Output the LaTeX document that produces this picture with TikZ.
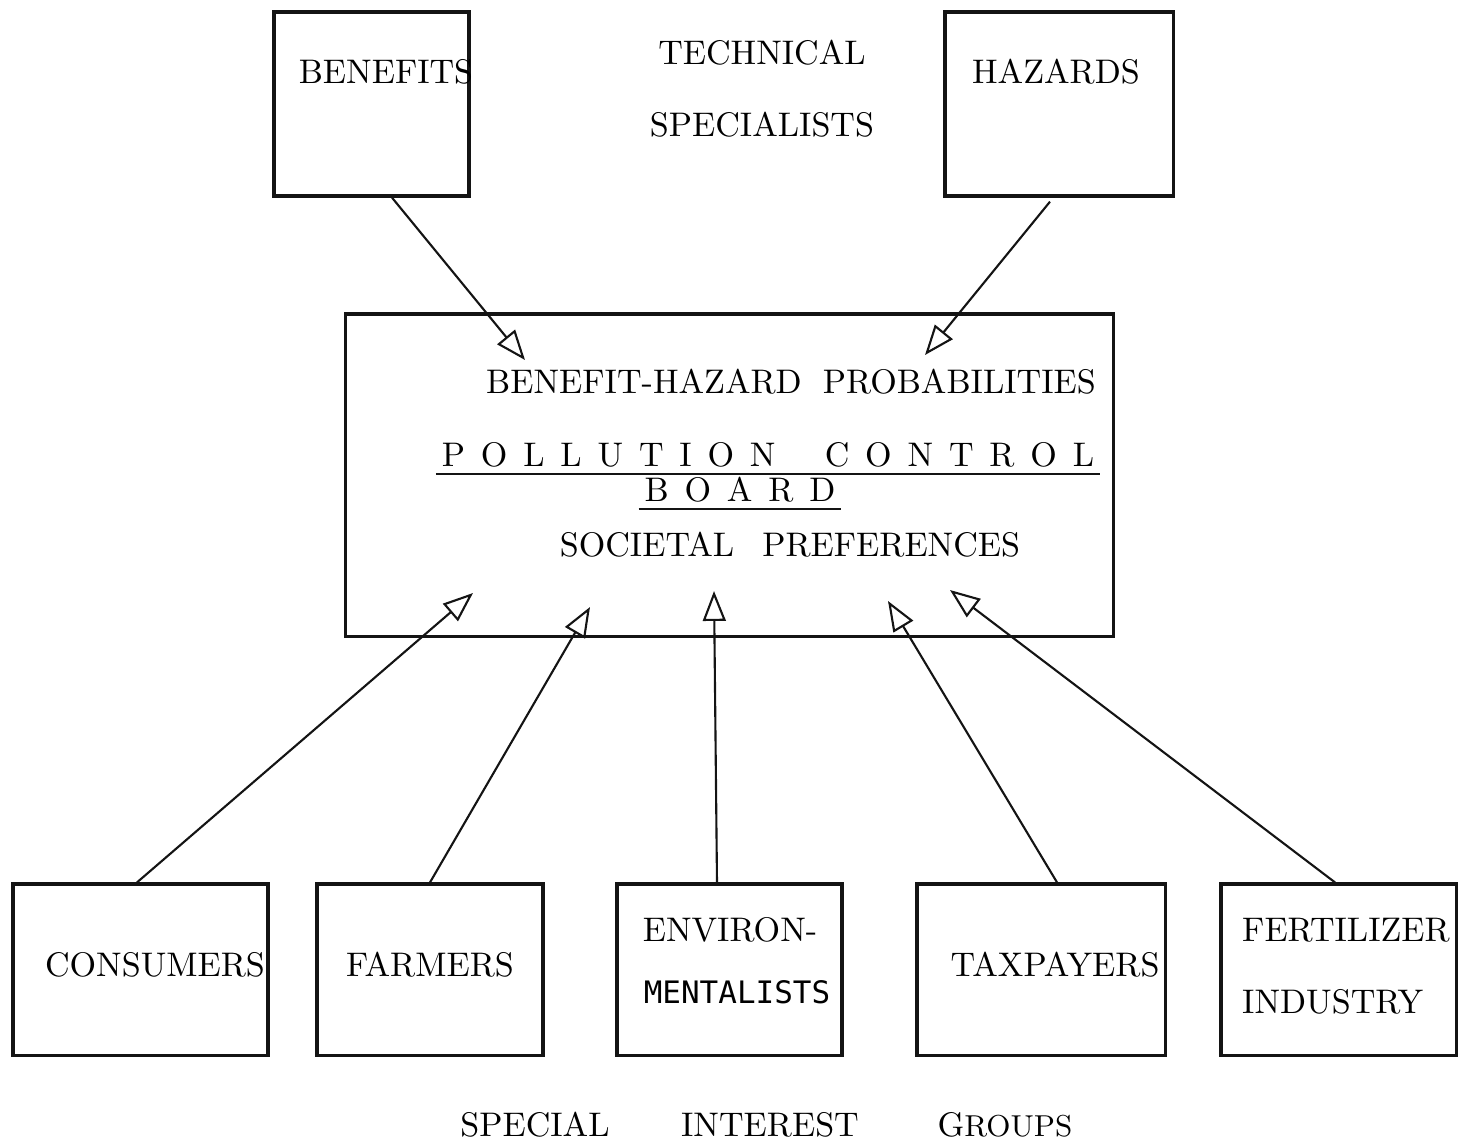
\documentclass[tikz,border=0pt]{standalone}
\usepackage{fontspec}
\usetikzlibrary{arrows.meta}
\newfontfamily\gothicfont{DejaVu Sans Mono}
\definecolor{figline}{RGB}{20,20,20}
\tikzset{
  box/.style  ={draw=figline, line width=0.9pt, inner sep=0pt},
  lab/.style  ={font=\fontsize{9.7}{12}\selectfont, inner sep=1pt},
  spc/.style  ={font=\fontsize{9.7}{12}\selectfont, inner xsep=1.5pt, inner ysep=1.6pt},
  ptr/.style  ={draw=figline, line width=0.6pt, -{Triangle[open,length=8.5pt,width=6.5pt]}},
  rule/.style ={draw=figline, line width=0.7pt},
}
\newcommand{\ls}{\hspace{4.5pt}}

\begin{document}
\begin{tikzpicture}[x=0.01cm,y=-0.01cm]
  \useasboundingbox (0,0) rectangle (1458,1141);
  \node[box,minimum width=1.95cm,minimum height=1.84cm] (ben) at (371.5,104) {};
  \node[lab] (bentxt) at (386,72) {BENEFITS};
  \node[box,minimum width=2.28cm,minimum height=1.84cm] (haz) at (1059,104) {};
  \node[lab] (haztxt) at (1056,72) {HAZARDS};
  \node[lab,align=center] (tech) at (762,89) {TECHNICAL\\[8.5pt]SPECIALISTS};
  \node[box,minimum width=7.67cm,minimum height=3.22cm] (pcb) at (729.5,475) {};
  \node[lab] (bhp) at (791,382) {BENEFIT-HAZARD\hspace{6pt}PROBABILITIES};
  \node[spc] (pc) at (768,455) {P\ls O\ls L\ls L\ls U\ls T\ls I\ls O\ls N\hspace{14pt}C\ls O\ls N\ls T\ls R\ls O\ls L};
  \node[spc] (brd) at (740,490) {B\ls O\ls A\ls R\ls D};
  \draw[rule] (pc.south west) -- (pc.south east);
  \draw[rule] (brd.south west) -- (brd.south east);
  \node[lab] (soc) at (790,545) {SOCIETAL\hspace{8pt}PREFERENCES};
  \node[box,minimum width=2.55cm,minimum height=1.71cm] (cons) at (140.5,969.5) {};
  \node[lab] (constxt) at (155,965) {CONSUMERS};
  \node[box,minimum width=2.26cm,minimum height=1.71cm] (farm) at (430,969.5) {};
  \node[lab] (farmtxt) at (430,965) {FARMERS};
  \node[box,minimum width=2.25cm,minimum height=1.71cm] (env) at (729.5,969.5) {};
  \node[lab] (envtxt) at (730,930) {ENVIRON-};
  \node[lab,font=\gothicfont\fontsize{8.8}{11}\selectfont] (envtxtb) at (737,992) {MENTALISTS};
  \node[box,minimum width=2.48cm,minimum height=1.71cm] (tax) at (1041,969.5) {};
  \node[lab] (taxtxt) at (1055,965) {TAXPAYERS};
  \node[box,minimum width=2.35cm,minimum height=1.71cm] (fert) at (1338.5,969.5) {};
  \node[lab,anchor=west] (ferttxt) at (1238,930) {FERTILIZER};
  \node[lab,anchor=west] (ferttxtb) at (1238,1002) {INDUSTRY};
  \node[lab] (sig1) at (535,1125) {SPECIAL};
  \node[lab] (sig2) at (770,1125) {INTEREST};
  \node[lab] (sig3) at (1005,1125) {G{\fontsize{8.6}{10}\selectfont ROUPS}};
  \coordinate (tben) at (525,360);
  \coordinate (thaz) at (925,355);
  \coordinate (tcons) at (473,593);
  \coordinate (tfarm) at (590,607);
  \coordinate (tenv) at (714,591);
  \coordinate (ttax) at (888,601);
  \coordinate (tfert) at (950,590);
  \draw[ptr] ([xshift=0.205cm]ben.south) -- (tben);
  \draw[ptr] ([xshift=-0.09cm,yshift=-0.04cm]haz.south) -- (thaz);
  \draw[ptr] ([xshift=-0.035cm]cons.north) -- (tcons);
  \draw[ptr] (farm.north) -- (tfarm);
  \draw[ptr] ([xshift=-0.125cm]env.north) -- (tenv);
  \draw[ptr] ([xshift=0.16cm]tax.north) -- (ttax);
  \draw[ptr] ([xshift=-0.035cm]fert.north) -- (tfert);
\end{tikzpicture}
\end{document}
